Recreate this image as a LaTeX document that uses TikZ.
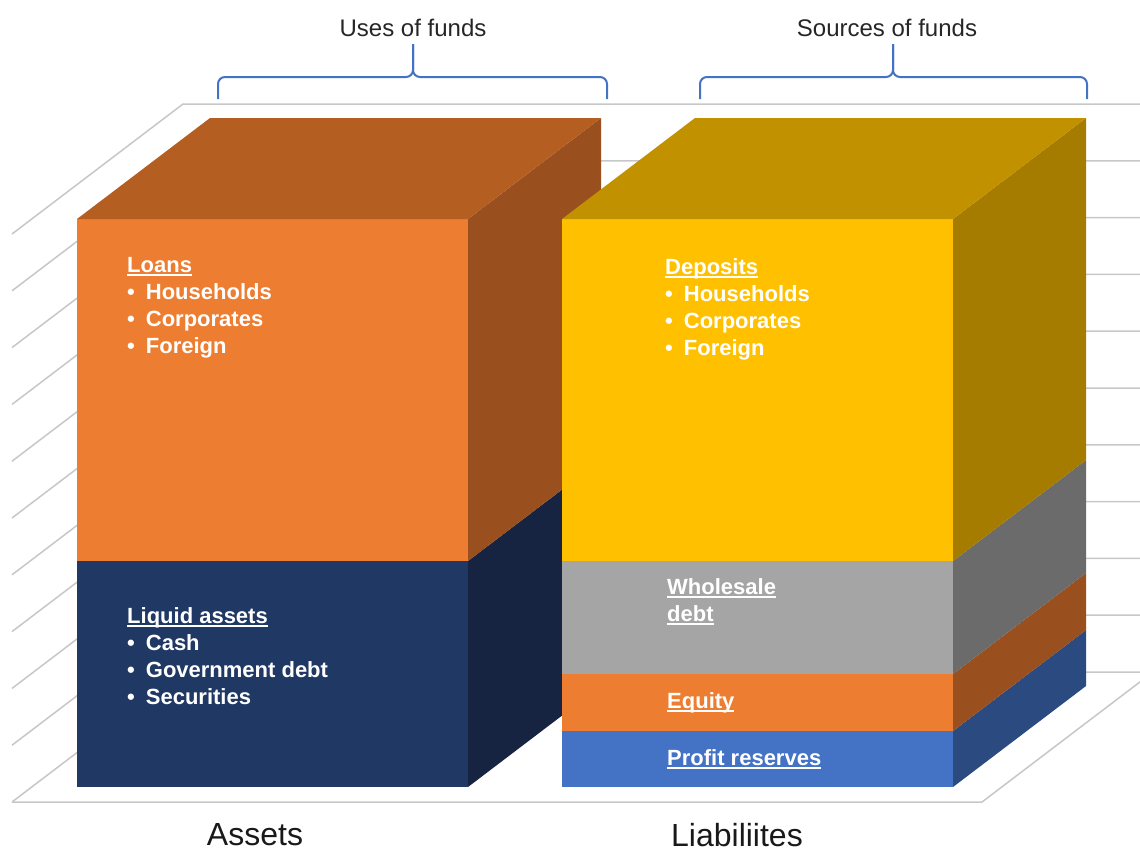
\documentclass[tikz,border=0pt]{standalone}
\usepackage{fontspec}
\setmainfont{Liberation Sans}
\usepackage{tikz}
\usetikzlibrary{positioning}
\definecolor{braceblue}{HTML}{4472C4}
\definecolor{orfront}{HTML}{ED7D31}
\definecolor{ortop}{HTML}{B55E22}
\definecolor{orside}{HTML}{9A4F1E}
\definecolor{navyfront}{HTML}{203864}
\definecolor{navyside}{HTML}{162442}
\definecolor{yelfront}{HTML}{FFC000}
\definecolor{yeltop}{HTML}{C19100}
\definecolor{yelside}{HTML}{A67C00}
\definecolor{greyfront}{HTML}{A5A5A5}
\definecolor{greyside}{HTML}{6B6B6B}
\definecolor{bluefront}{HTML}{4472C4}
\definecolor{blueside}{HTML}{2B4A80}
\newcommand{\hdr}[1]{\setbox0\hbox{#1}\rlap{\rule[-3.5pt]{\wd0}{1.8pt}}\box0}
\newcommand{\itm}{\textbullet\hspace{11pt}}

\begin{document}
\begin{tikzpicture}[x=1pt,y=-1pt,
	wall/.style={line width=1.5pt,black!22},
	brace/.style={line width=2pt,braceblue,rounded corners=7pt},
	lbl/.style={anchor=north west,inner sep=0pt,align=left,text=white,font=\bfseries\fontsize{22}{27}\selectfont},
	head/.style={text=black!85,font=\fontsize{24}{28}\selectfont},
	axis/.style={inner sep=0pt,text=black!90,font=\fontsize{32}{36}\selectfont}]
	\useasboundingbox (0,0) rectangle (1140,852);
	\clip (0,0) rectangle (1140,852);
	% back wall and floor
	\foreach \k in {0,...,10}
		\draw[wall] (12,234+56.8*\k) -- (183,104+56.8*\k) -- (1140,104+56.8*\k);
	\draw[wall] (12,802) -- (982,802) -- (1153,672);
	% assets
	\fill[navyfront] (77,561) rectangle (468,787);
	\fill[navyside] (468,787) -- (601,686) -- (601,460) -- (468,561) -- cycle;
	\fill[orfront] (77,219) rectangle (468,561);
	\fill[orside] (468,561) -- (601,460) -- (601,118) -- (468,219) -- cycle;
	\fill[ortop] (77,219) -- (210,118) -- (601,118) -- (468,219) -- cycle;
	% liabilities
	\fill[bluefront] (562,731) rectangle (953,787);
	\fill[blueside] (953,787) -- (1086,686) -- (1086,630) -- (953,731) -- cycle;
	\fill[orfront] (562,674) rectangle (953,731);
	\fill[orside] (953,731) -- (1086,630) -- (1086,573) -- (953,674) -- cycle;
	\fill[greyfront] (562,561) rectangle (953,674);
	\fill[greyside] (953,674) -- (1086,573) -- (1086,460) -- (953,561) -- cycle;
	\fill[yelfront] (562,219) rectangle (953,561);
	\fill[yelside] (953,561) -- (1086,460) -- (1086,118) -- (953,219) -- cycle;
	\fill[yeltop] (562,219) -- (695,118) -- (1086,118) -- (953,219) -- cycle;
	% labels in the blocks
	\node[lbl] (loans) at (127,257) {\hdr{Loans}\\\itm Households\\\itm Corporates\\\itm Foreign};
	\node[lbl] (liquid) at (127,607) {\hdr{Liquid assets}\\\itm Cash\\\itm Government debt\\\itm Securities};
	\node[lbl] (deposits) at (665,258) {\hdr{Deposits}\\\itm Households\\\itm Corporates\\\itm Foreign};
	\node[lbl] (wholesale) at (667,578) {\hdr{Wholesale}\\\hdr{debt}};
	\node[lbl] (equity) at (667,692) {\hdr{Equity}};
	\node[lbl] (reserves) at (667,749) {\hdr{Profit reserves}};
	% braces
	\node[head] (uses) at (413,28) {Uses of funds};
	\node[head] (sources) at (887,28) {Sources of funds};
	\draw[brace] (218,99) |- (413,77) -- (413,44);
	\draw[brace] (607,99) |- (413,77) -- (413,44);
	\draw[brace] (700,99) |- (893,77) -- (893,44);
	\draw[brace] (1087,99) |- (893,77) -- (893,44);
	% column names
	\node[axis] (assets) at (255,835) {Assets};
	\node[axis] (liab) at (737,835) {Liabiliites};
\end{tikzpicture}
\end{document}
